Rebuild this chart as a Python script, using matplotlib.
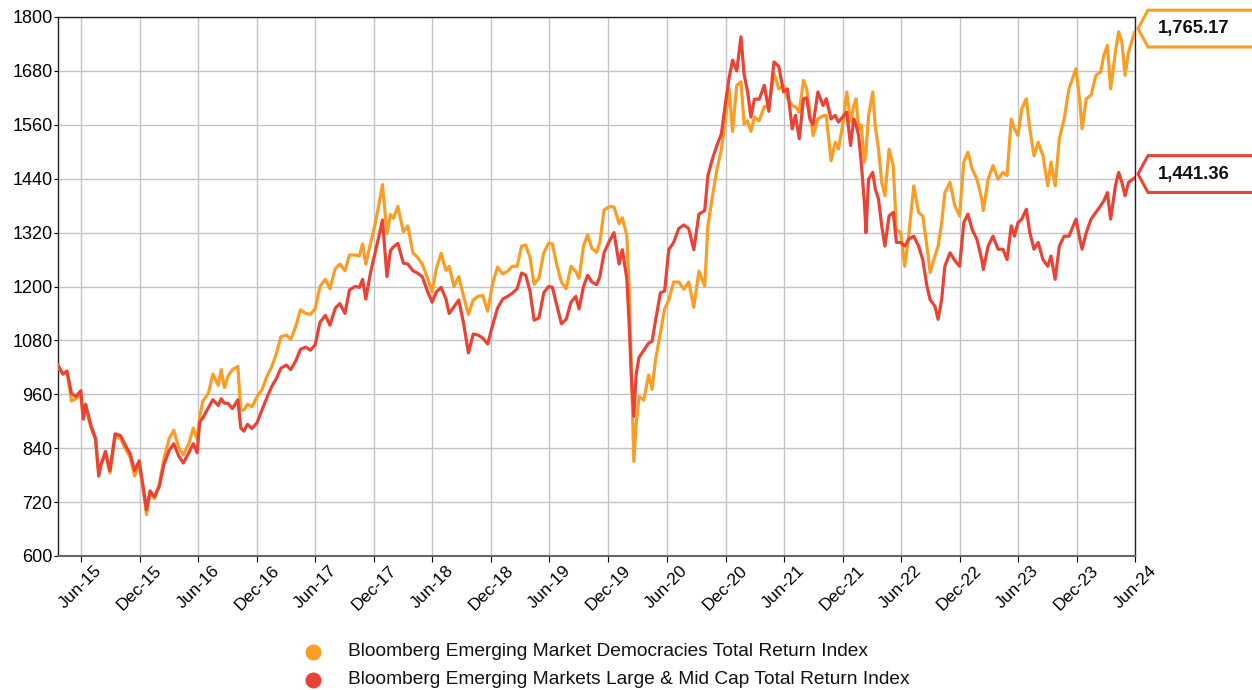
import numpy as np, pandas as pd
import matplotlib; matplotlib.use("Agg")
import matplotlib.pyplot as plt
import matplotlib.transforms as mtrans
from matplotlib.patches import Polygon
from matplotlib.lines import Line2D

plt.rcParams["font.family"] = ["Liberation Sans", "DejaVu Sans"]

# values, both series share the date list
DATES = [
 "2015-04-20","2015-05-05","2015-05-18","2015-06-01","2015-06-15","2015-06-30","2015-07-08","2015-07-15",
 "2015-08-01","2015-08-15","2015-08-25","2015-09-01","2015-09-15","2015-09-29","2015-10-15","2015-11-01",
 "2015-11-15","2015-12-01","2015-12-15","2015-12-29","2016-01-10","2016-01-21","2016-02-01","2016-02-15",
 "2016-03-01","2016-03-15","2016-04-01","2016-04-15","2016-05-01","2016-05-15","2016-06-01","2016-06-15",
 "2016-06-27","2016-07-05","2016-07-15","2016-08-01","2016-08-15","2016-09-01","2016-09-10","2016-09-20",
 "2016-10-01","2016-10-15","2016-11-01","2016-11-10","2016-11-20","2016-12-01","2016-12-15","2016-12-31",
 "2017-01-15","2017-02-01","2017-02-15","2017-03-01","2017-03-15","2017-04-01","2017-04-15","2017-05-01",
 "2017-05-15","2017-06-01","2017-06-15","2017-06-30","2017-07-15","2017-08-01","2017-08-15","2017-09-01",
 "2017-09-15","2017-10-01","2017-10-15","2017-11-01","2017-11-15","2017-11-25","2017-12-05","2017-12-20",
 "2018-01-02","2018-01-15","2018-01-26","2018-02-09","2018-02-20","2018-03-01","2018-03-15","2018-04-01",
 "2018-04-15","2018-05-01","2018-05-15","2018-05-30","2018-06-15","2018-06-30","2018-07-13","2018-07-28",
 "2018-08-12","2018-08-22","2018-09-06","2018-09-21","2018-10-06","2018-10-21","2018-11-05","2018-11-20",
 "2018-12-05","2018-12-20","2019-01-05","2019-01-20","2019-02-05","2019-02-20","2019-03-07","2019-03-22",
 "2019-04-05","2019-04-18","2019-05-01","2019-05-14","2019-05-29","2019-06-13","2019-06-28","2019-07-10",
 "2019-07-23","2019-08-07","2019-08-22","2019-09-06","2019-09-21","2019-10-01","2019-10-15","2019-10-28",
 "2019-11-10","2019-11-25","2019-12-05","2019-12-18","2020-01-03","2020-01-18","2020-02-03","2020-02-13",
 "2020-02-27","2020-03-05","2020-03-12","2020-03-20","2020-03-27","2020-04-05","2020-04-20","2020-05-05",
 "2020-05-16","2020-05-26","2020-06-11","2020-06-24","2020-07-07","2020-07-22","2020-08-07","2020-08-23",
 "2020-09-07","2020-09-23","2020-10-09","2020-10-27","2020-11-06","2020-11-20","2020-12-04","2020-12-18",
 "2020-12-31","2021-01-11","2021-01-22","2021-02-04","2021-02-17","2021-02-27","2021-03-10","2021-03-20",
 "2021-03-31","2021-04-15","2021-05-01","2021-05-15","2021-05-31","2021-06-15","2021-06-30","2021-07-12",
 "2021-07-27","2021-08-06","2021-08-18","2021-08-31","2021-09-10","2021-09-20","2021-09-30","2021-10-15",
 "2021-10-31","2021-11-10","2021-11-25","2021-12-08","2021-12-18","2021-12-31","2022-01-13","2022-01-25",
 "2022-02-04","2022-02-11","2022-02-19","2022-02-27","2022-03-09","2022-03-14","2022-03-22","2022-04-04",
 "2022-04-12","2022-04-22","2022-05-02","2022-05-12","2022-05-25","2022-06-07","2022-06-17","2022-06-30",
 "2022-07-13","2022-07-25","2022-08-10","2022-08-25","2022-09-07","2022-09-20","2022-09-30","2022-10-15",
 "2022-10-25","2022-11-05","2022-11-15","2022-12-01","2022-12-16","2022-12-31","2023-01-13","2023-01-26",
 "2023-02-08","2023-02-23","2023-03-10","2023-03-15","2023-03-30","2023-04-14","2023-04-30","2023-05-15",
 "2023-05-28","2023-06-10","2023-06-20","2023-07-01","2023-07-13","2023-07-27","2023-08-07","2023-08-20",
 "2023-09-02","2023-09-17","2023-10-02","2023-10-12","2023-10-25","2023-11-07","2023-11-22","2023-12-07",
 "2023-12-29","2024-01-10","2024-01-17","2024-01-30","2024-02-14","2024-02-29","2024-03-15","2024-03-25",
 "2024-04-05","2024-04-15","2024-04-30","2024-05-10","2024-05-20","2024-05-30","2024-06-10","2024-06-28"]

DEMOCRACIES = [
 1020,1005,1010,945,950,960,905,935, 885,860,785,805,825,785,865,862,
 840,820,778,805,752,692,740,728, 760,815,862,880,840,825,850,885,
 860,910,945,962,1005,980,1015,975, 1000,1015,1022,925,925,938,932,955,
 970,1002,1022,1050,1088,1092,1082,1112, 1148,1140,1138,1150,1200,1216,1195,1240,
 1250,1235,1270,1270,1268,1295,1250,1297, 1335,1383,1427,1318,1360,1352,1378,1322,
 1335,1275,1265,1250,1220,1188,1240,1274, 1236,1245,1200,1222,1178,1138,1170,1178,
 1180,1145,1208,1243,1228,1234,1245,1245, 1290,1292,1265,1205,1218,1275,1296,1295,
 1250,1210,1195,1245,1233,1218,1290,1315, 1285,1276,1298,1370,1378,1377,1340,1353,
 1314,1202,1019,811,891,955,947,1003, 971,1034,1098,1150,1170,1210,1210,1194,
 1210,1154,1234,1201,1335,1400,1460,1505, 1573,1640,1545,1648,1656,1561,1569,1545,
 1577,1569,1601,1600,1675,1640,1648,1618, 1603,1600,1588,1659,1640,1588,1536,1573,
 1580,1581,1480,1521,1506,1558,1633,1566, 1603,1618,1551,1560,1477,1500,1580,1633,
 1558,1506,1432,1402,1506,1469,1327,1320, 1245,1312,1424,1365,1357,1290,1231,1268,
 1290,1342,1409,1432,1380,1357,1477,1499, 1462,1439,1395,1369,1439,1469,1439,1454,
 1447,1573,1551,1536,1596,1618,1551,1491, 1521,1491,1424,1477,1424,1529,1573,1640,
 1685,1611,1551,1618,1626,1670,1678,1715, 1737,1640,1722,1767,1745,1670,1722,1765.17]

LARGE_MID = [
 1025,1005,1012,962,955,968,905,938, 890,862,778,803,833,790,872,868,
 848,828,790,812,757,703,745,732, 755,803,835,850,822,807,830,850,
 830,898,908,930,948,935,950,940, 940,928,948,885,878,893,884,897,
 925,955,978,995,1018,1025,1015,1035, 1060,1065,1058,1070,1120,1136,1114,1152,
 1162,1140,1192,1200,1198,1216,1172,1232, 1272,1312,1348,1222,1280,1288,1296,1252,
 1250,1235,1230,1222,1190,1165,1188,1198, 1172,1140,1155,1170,1118,1052,1094,1092,
 1085,1072,1115,1152,1172,1178,1185,1195, 1230,1225,1190,1125,1130,1186,1200,1198,
 1160,1117,1127,1165,1178,1150,1200,1225, 1210,1204,1222,1275,1300,1320,1250,1282,
 1218,1122,1003,911,1003,1042,1058,1074, 1078,1122,1186,1190,1282,1298,1329,1337,
 1329,1282,1361,1369,1447,1484,1514,1540, 1610,1664,1704,1680,1756,1672,1633,1577,
 1617,1617,1648,1590,1700,1690,1633,1640, 1551,1581,1529,1618,1620,1573,1560,1633,
 1603,1618,1573,1581,1566,1577,1588,1514, 1573,1560,1536,1477,1387,1320,1439,1454,
 1417,1395,1335,1290,1357,1365,1298,1298, 1290,1305,1312,1290,1260,1201,1171,1156,
 1127,1171,1245,1275,1258,1245,1342,1361, 1327,1305,1260,1238,1290,1312,1283,1283,
 1260,1335,1312,1342,1350,1372,1320,1283, 1298,1260,1245,1268,1216,1290,1312,1312,
 1350,1305,1283,1320,1350,1365,1380,1391, 1409,1350,1424,1454,1432,1402,1432,1441.36]

NAMES = ["Bloomberg Emerging Market Democracies Total Return Index",
         "Bloomberg Emerging Markets Large & Mid Cap Total Return Index"]
TICK_DATES = pd.date_range("2015-06-30", "2024-06-30", freq="6ME")
TICK_LABELS = [d.strftime("%b-%y") for d in TICK_DATES]

ORANGE = "#F99D25"; RED = "#EA4335"
dates = pd.to_datetime(DATES)

fig = plt.figure(figsize=(12.52, 6.90), dpi=100)
ax = fig.add_axes([58/1252, 1-556/690, (1135-58)/1252, (556-17)/690])
ax.plot(dates, DEMOCRACIES, color=ORANGE, lw=2.3, zorder=3)
ax.plot(dates, LARGE_MID, color=RED, lw=2.3, zorder=4)

ax.set_xlim(pd.Timestamp("2015-04-20"), pd.Timestamp("2024-06-30"))
ax.set_ylim(600, 1800)
ax.set_yticks(np.arange(600, 1801, 120))
ax.set_xticks(TICK_DATES)
ax.set_xticklabels(TICK_LABELS, rotation=45, fontsize=12.5)
ax.tick_params(axis="y", labelsize=13, length=3, pad=1)
ax.tick_params(axis="x", length=4, pad=1)
ax.grid(True, color="#c4c4c4", lw=1)
for s in ax.spines.values():
    s.set_color("#222222"); s.set_linewidth(1)
ax.spines["bottom"].set_color("#666666"); ax.spines["bottom"].set_linewidth(1.5)

# end-value callouts on the right
tr = mtrans.blended_transform_factory(fig.transFigure, ax.transData)
for val, col in [(DEMOCRACIES[-1], ORANGE), (LARGE_MID[-1], RED)]:
    yc = val + 9
    h = 41
    x0, x1, x2 = 1138/1252, 1148/1252, 1.01
    poly = Polygon([(x0, yc), (x1, yc+h), (x2, yc+h), (x2, yc-h), (x1, yc-h)],
                   closed=True, transform=tr, facecolor="white", edgecolor=col,
                   lw=2.2, clip_on=False, zorder=5)
    fig.add_artist(poly)
    fig.text(1158/1252, yc, f"{val:,.2f}", transform=tr, ha="left", va="center",
             fontsize=13.3, fontweight="bold", color="#111111", zorder=6)

# legend
for i, (name, col) in enumerate(zip(NAMES, [ORANGE, RED])):
    y = 1 - (652 + 28*i)/690
    fig.add_artist(Line2D([313/1252], [y], marker="o", ms=10.5, color=col, lw=0,
                          transform=fig.transFigure))
    fig.text(348/1252, y + 1/690, name, ha="left", va="center", fontsize=13.8, color="#111111")

fig.savefig("out.png", dpi=100)
